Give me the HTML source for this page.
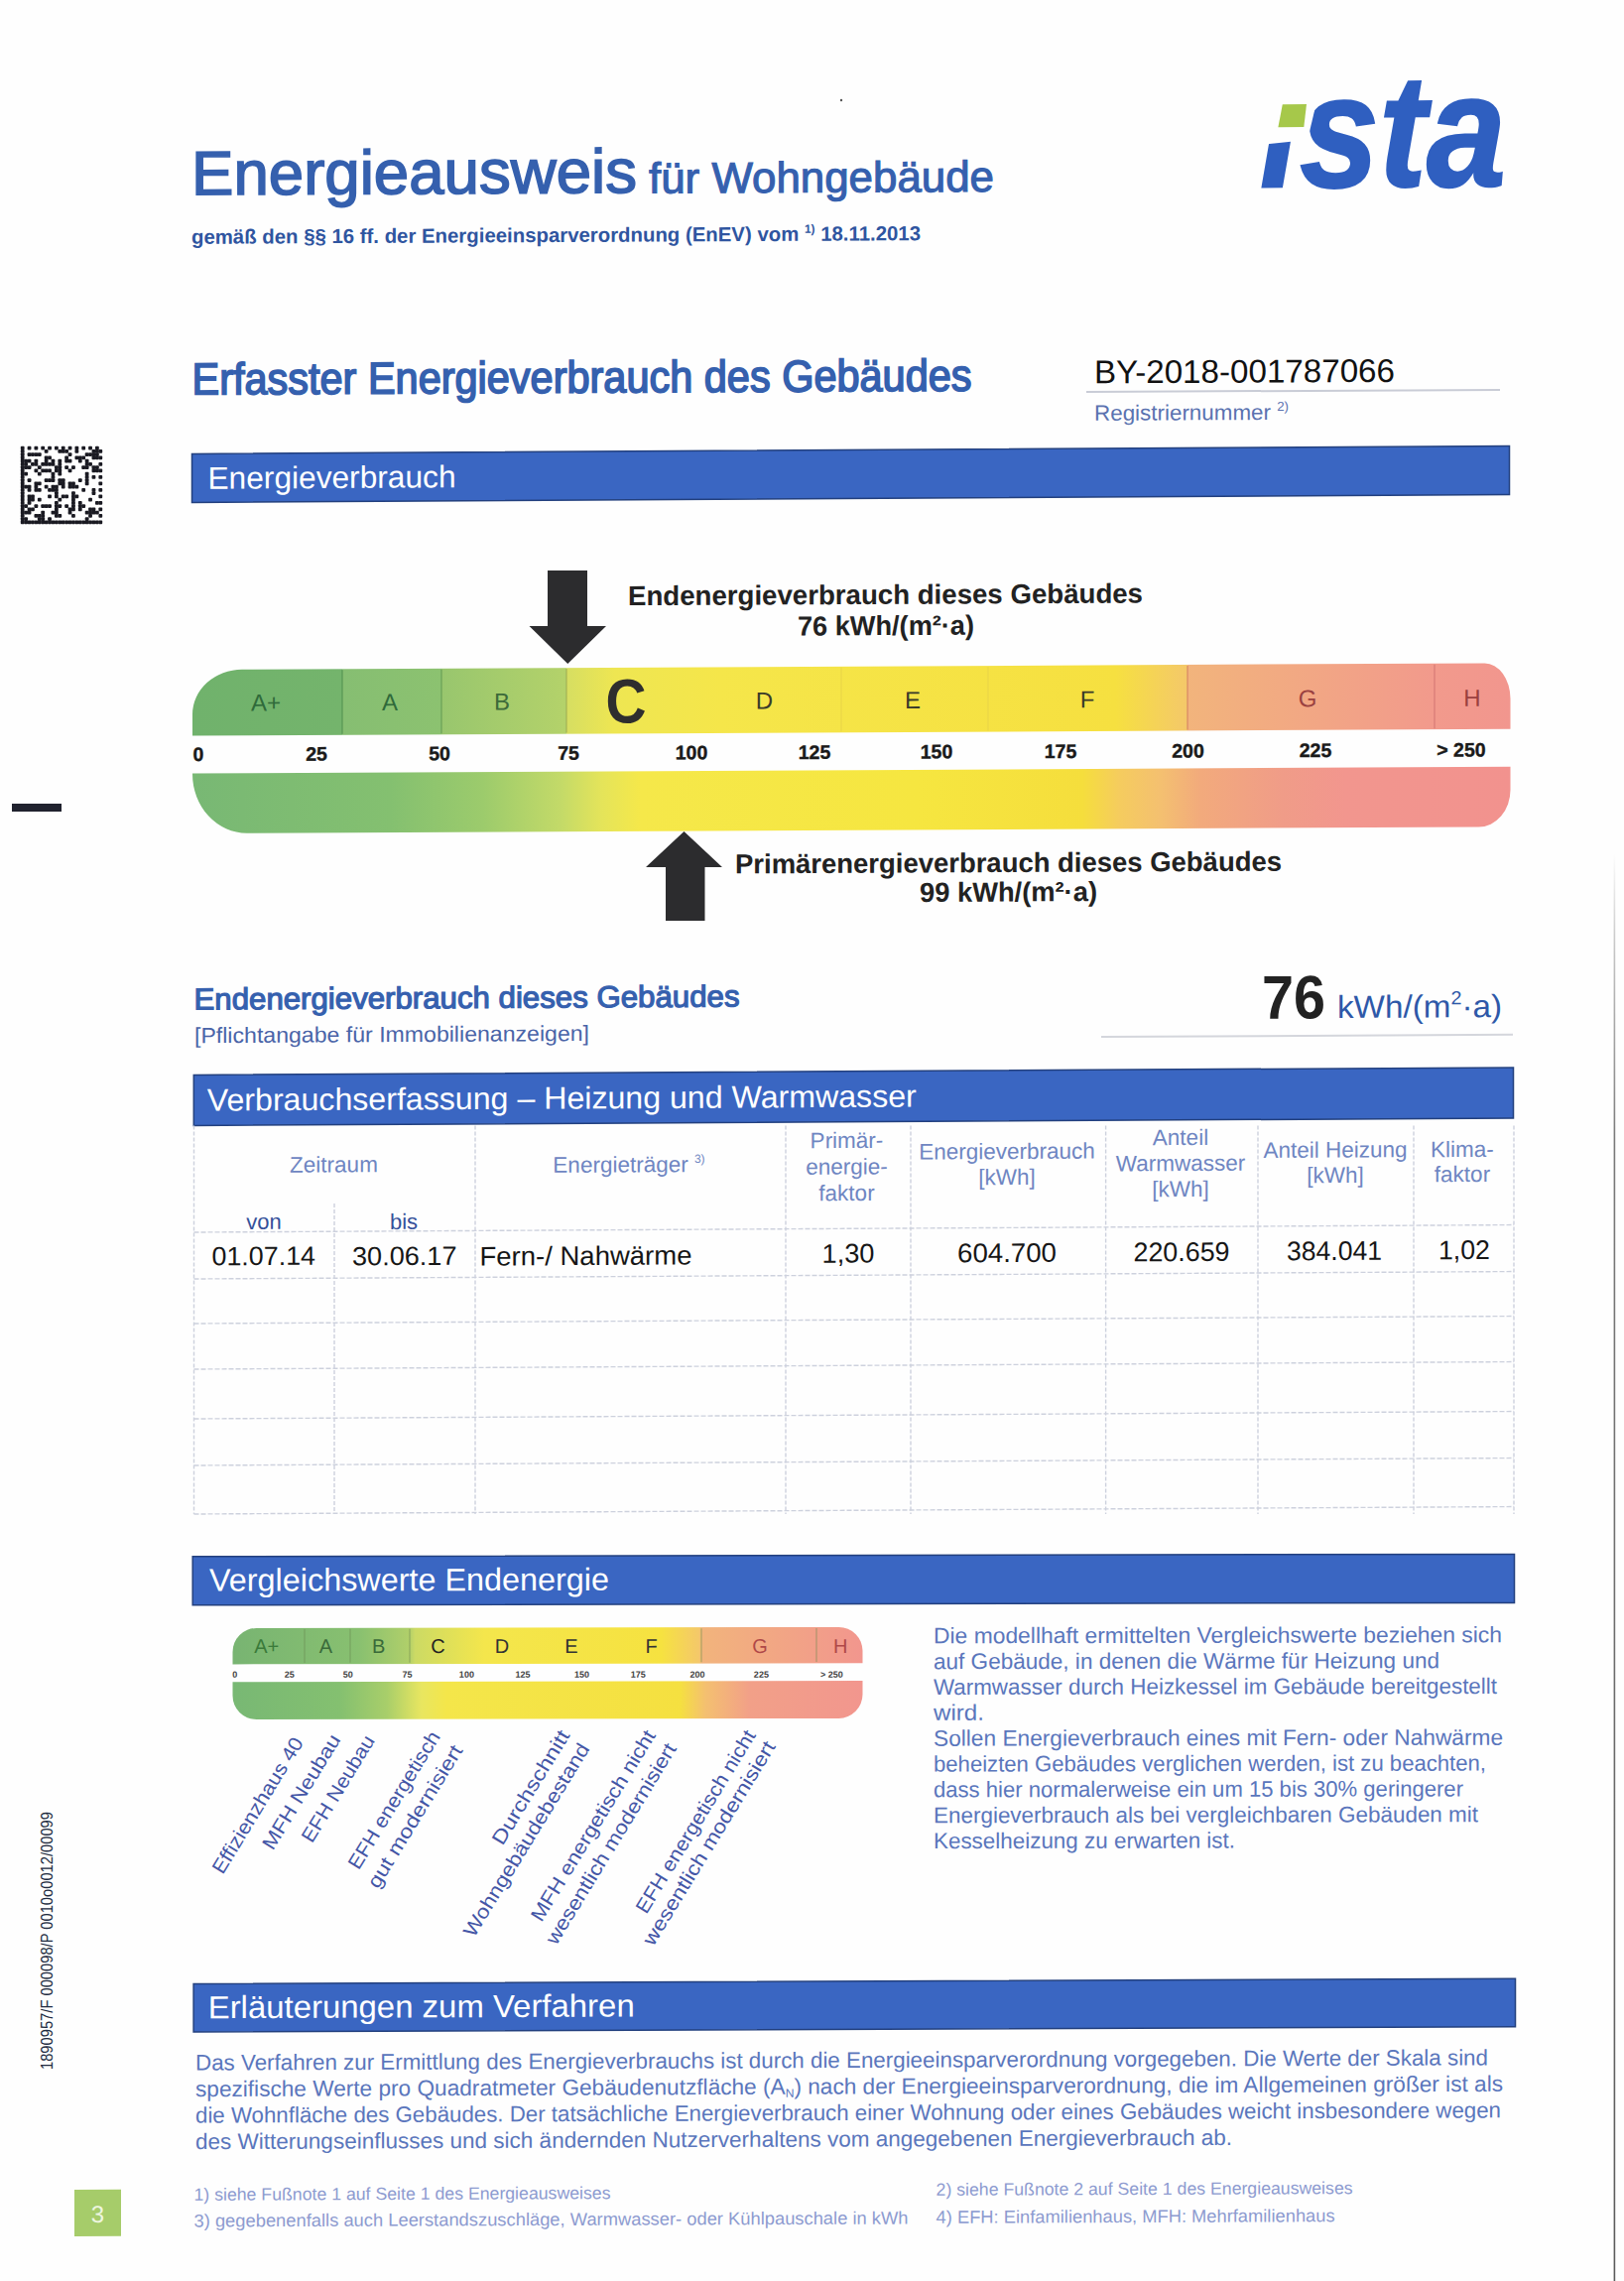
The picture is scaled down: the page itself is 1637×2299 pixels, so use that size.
<!DOCTYPE html>
<html><head><meta charset="utf-8"><title>Energieausweis</title>
<style>
html,body{margin:0;padding:0;background:#fff;}
body{width:1637px;height:2299px;overflow:hidden;}
svg{display:block;}
text{font-family:'Liberation Sans', Arial, sans-serif;}
</style></head><body>
<svg width="1637" height="2299" viewBox="0 0 1637 2299">
<rect width="1637" height="2299" fill="#fefefe"/>
<g transform="matrix(1 -0.005 0 1 0 0.9750)">
<text x="193.0" y="196.3" font-size="62.5" fill="#3560ae" font-weight="normal" text-anchor="start" textLength="449.0" lengthAdjust="spacingAndGlyphs" stroke="#3560ae" stroke-width="1.6" >Energieausweis</text>
<text x="654.0" y="196.9" font-size="43.5" fill="#3560ae" font-weight="normal" text-anchor="start" textLength="348.0" lengthAdjust="spacingAndGlyphs" stroke="#3560ae" stroke-width="1.1" >für Wohngebäude</text>
<text x="193.0" y="245.8" font-size="20.5" fill="#2f55a0" font-weight="bold" text-anchor="start" textLength="735.0" lengthAdjust="spacingAndGlyphs" >gemäß den §§ 16 ff. der Energieeinsparverordnung (EnEV) vom <tspan font-size="12" dy="-8">1)</tspan><tspan dy="8"> 18.11.2013</tspan></text>
<text x="1270" y="194.0" font-size="162" font-style="italic" font-weight="bold" fill="#2f5fc0" stroke="#2f5fc0" stroke-width="2" textLength="248" lengthAdjust="spacingAndGlyphs">ista</text>
<path d="M1276,75.5 L1335,75.5 L1318,146.5 L1268,151.5 Z" fill="#fefefe"/>
<path d="M1292.8,110.7 L1317,110.7 L1314.3,133.6 L1288.4,133.6 Z" fill="#a6c84a"/>
<text x="193.5" y="397.6" font-size="45" fill="#3560ae" font-weight="normal" text-anchor="start" textLength="786.0" lengthAdjust="spacingAndGlyphs" stroke="#3560ae" stroke-width="1.7" >Erfasster Energieverbrauch des Gebäudes</text>
<text x="1103.0" y="390.9" font-size="33" fill="#111" font-weight="normal" text-anchor="start" textLength="303.0" lengthAdjust="spacingAndGlyphs" >BY-2018-001787066</text>
<line x1="1095" y1="399.5" x2="1512" y2="399.5" stroke="#c9ccd6" stroke-width="2"/>
<text x="1103.0" y="428.4" font-size="22" fill="#5a72b0" font-weight="normal" text-anchor="start" textLength="196.0" lengthAdjust="spacingAndGlyphs" >Registriernummer <tspan font-size="13" dy="-9">2)</tspan></text>
</g>
<g transform="matrix(1 -0.006 0 1 0 1.1700)">
<rect x="193.5" y="457.4" width="1328.0" height="49" fill="#3a66c2" stroke="#23407e" stroke-width="1.5"/>
<text x="209.5" y="492.8" font-size="31.5" fill="#fff" font-weight="normal" text-anchor="start" textLength="250.0" lengthAdjust="spacingAndGlyphs" >Energieverbrauch</text>
<defs>
<linearGradient id="gl" x1="194" x2="1523" gradientUnits="userSpaceOnUse">
 <stop offset="0" stop-color="#78b874"/>
 <stop offset="0.15" stop-color="#84c070"/>
 <stop offset="0.22" stop-color="#9ccb6c"/>
 <stop offset="0.28" stop-color="#c4da68"/>
 <stop offset="0.31" stop-color="#e4e45a"/>
 <stop offset="0.34" stop-color="#f5e84a"/>
 <stop offset="0.55" stop-color="#f6e640"/>
 <stop offset="0.675" stop-color="#f5de3c"/>
 <stop offset="0.703" stop-color="#f5cc5e"/>
 <stop offset="0.734" stop-color="#f4c070"/>
 <stop offset="0.765" stop-color="#f2aa7c"/>
 <stop offset="0.827" stop-color="#f09c88"/>
 <stop offset="0.874" stop-color="#f2968e"/>
 <stop offset="1" stop-color="#f2928e"/>
</linearGradient>
<linearGradient id="gu" x1="194" x2="1523" gradientUnits="userSpaceOnUse">
 <stop offset="0" stop-color="#70b26c"/>
 <stop offset="0.1135" stop-color="#74b46c"/>
 <stop offset="0.1136" stop-color="#86be72"/>
 <stop offset="0.1885" stop-color="#8cc270"/>
 <stop offset="0.1886" stop-color="#98c66e"/>
 <stop offset="0.2835" stop-color="#b4d26a"/>
 <stop offset="0.2836" stop-color="#d6de62"/>
 <stop offset="0.32" stop-color="#eee652"/>
 <stop offset="0.40" stop-color="#f5e64a"/>
 <stop offset="0.70" stop-color="#f6e040"/>
 <stop offset="0.7545" stop-color="#f4c86a"/>
 <stop offset="0.7546" stop-color="#f2b47c"/>
 <stop offset="0.94" stop-color="#f29a8c"/>
 <stop offset="1" stop-color="#f2968e"/>
</linearGradient>
<linearGradient id="sl" x1="234" x2="870" gradientUnits="userSpaceOnUse">
 <stop offset="0" stop-color="#78b874"/>
 <stop offset="0.17" stop-color="#84c070"/>
 <stop offset="0.245" stop-color="#a8ce6a"/>
 <stop offset="0.30" stop-color="#e8e660"/>
 <stop offset="0.34" stop-color="#f4e64a"/>
 <stop offset="0.71" stop-color="#f5e040"/>
 <stop offset="0.75" stop-color="#f4c070"/>
 <stop offset="0.82" stop-color="#f2a088"/>
 <stop offset="1" stop-color="#f2968e"/>
</linearGradient>
<linearGradient id="su" x1="234" x2="870" gradientUnits="userSpaceOnUse">
 <stop offset="0" stop-color="#78b472"/>
 <stop offset="0.2" stop-color="#88c070"/>
 <stop offset="0.28" stop-color="#b0cf6a"/>
 <stop offset="0.29" stop-color="#ccda64"/>
 <stop offset="0.40" stop-color="#f4e64c"/>
 <stop offset="0.68" stop-color="#f6e240"/>
 <stop offset="0.74" stop-color="#f4c86a"/>
 <stop offset="0.745" stop-color="#f2b47c"/>
 <stop offset="1" stop-color="#f2968e"/>
</linearGradient>
</defs>
</g>
<g transform="matrix(1 -0.005 0 1 0 0.9750)">
<path d="M194,741.495 L194,719.995 A50,45 0 0 1 244,674.995 L1496.5,674.995 A26,36 0 0 1 1522.5,710.995 L1522.5,741.495 Z" fill="url(#gu)"/>
<path d="M194,779.495 L1522.5,779.495 L1522.5,802.995 A32,37 0 0 1 1490.5,839.995 L249,839.995 A55,60 0 0 1 194,779.995 Z" fill="url(#gl)"/>
<line x1="345" y1="676.0" x2="345" y2="740.5" stroke="#4c8a4c" stroke-width="1.3" opacity="0.7"/>
<line x1="445" y1="676.0" x2="445" y2="740.5" stroke="#5e9650" stroke-width="1.3" opacity="0.7"/>
<line x1="571" y1="676.0" x2="571" y2="740.5" stroke="#9aa850" stroke-width="1.3" opacity="0.7"/>
<line x1="848" y1="676.0" x2="848" y2="740.5" stroke="#e8d44a" stroke-width="1.3" opacity="0.7"/>
<line x1="996" y1="676.0" x2="996" y2="740.5" stroke="#e8d44a" stroke-width="1.3" opacity="0.7"/>
<line x1="1197" y1="676.0" x2="1197" y2="740.5" stroke="#d07860" stroke-width="1.3" opacity="0.7"/>
<line x1="1446" y1="676.0" x2="1446" y2="740.5" stroke="#d07070" stroke-width="1.3" opacity="0.7"/>
<text x="268.0" y="716.9" font-size="24" fill="#2f6a3a" font-weight="normal" text-anchor="middle" >A+</text>
<text x="393.0" y="717.0" font-size="24" fill="#2f6a3a" font-weight="normal" text-anchor="middle" >A</text>
<text x="506.0" y="717.1" font-size="24" fill="#3d6a3a" font-weight="normal" text-anchor="middle" >B</text>
<text x="770.5" y="717.4" font-size="24" fill="#3a3a2a" font-weight="normal" text-anchor="middle" >D</text>
<text x="920.0" y="717.5" font-size="24" fill="#3a3a2a" font-weight="normal" text-anchor="middle" >E</text>
<text x="1096.0" y="717.7" font-size="24" fill="#3a3a2a" font-weight="normal" text-anchor="middle" >F</text>
<text x="1318.0" y="717.9" font-size="24" fill="#9a4040" font-weight="normal" text-anchor="middle" >G</text>
<text x="1484.0" y="718.1" font-size="24" fill="#9a4040" font-weight="normal" text-anchor="middle" >H</text>
<text x="631.0" y="730.7" font-size="63" fill="#2e2e2e" font-weight="bold" text-anchor="middle" textLength="41.0" lengthAdjust="spacingAndGlyphs" >C</text>
<text x="200.0" y="767.0" font-size="19.5" fill="#1a1a1a" font-weight="bold" text-anchor="middle" stroke="#1a1a1a" stroke-width="0.4" >0</text>
<text x="319.0" y="767.2" font-size="19.5" fill="#1a1a1a" font-weight="bold" text-anchor="middle" stroke="#1a1a1a" stroke-width="0.4" >25</text>
<text x="443.0" y="767.4" font-size="19.5" fill="#1a1a1a" font-weight="bold" text-anchor="middle" stroke="#1a1a1a" stroke-width="0.4" >50</text>
<text x="573.0" y="767.6" font-size="19.5" fill="#1a1a1a" font-weight="bold" text-anchor="middle" stroke="#1a1a1a" stroke-width="0.4" >75</text>
<text x="697.0" y="767.8" font-size="19.5" fill="#1a1a1a" font-weight="bold" text-anchor="middle" stroke="#1a1a1a" stroke-width="0.4" >100</text>
<text x="821.0" y="768.0" font-size="19.5" fill="#1a1a1a" font-weight="bold" text-anchor="middle" stroke="#1a1a1a" stroke-width="0.4" >125</text>
<text x="944.0" y="768.1" font-size="19.5" fill="#1a1a1a" font-weight="bold" text-anchor="middle" stroke="#1a1a1a" stroke-width="0.4" >150</text>
<text x="1069.0" y="768.3" font-size="19.5" fill="#1a1a1a" font-weight="bold" text-anchor="middle" stroke="#1a1a1a" stroke-width="0.4" >175</text>
<text x="1197.5" y="768.5" font-size="19.5" fill="#1a1a1a" font-weight="bold" text-anchor="middle" stroke="#1a1a1a" stroke-width="0.4" >200</text>
<text x="1326.0" y="768.7" font-size="19.5" fill="#1a1a1a" font-weight="bold" text-anchor="middle" stroke="#1a1a1a" stroke-width="0.4" >225</text>
<text x="1473.0" y="768.9" font-size="19.5" fill="#1a1a1a" font-weight="bold" text-anchor="middle" stroke="#1a1a1a" stroke-width="0.4" >&gt; 250</text>
<path d="M552,576.8 L592,577.0 L592,633.0 L611,633.1 L572.25,670.9 L533.5,632.7 L552,632.8 Z" fill="#2c2c2e"/>
<path d="M671,930.4 L710.5,930.6 L710.5,876.6 L728,876.7 L689.5,840.5 L651,876.3 L671,876.4 Z" fill="#2c2c2e"/>
<text x="633.0" y="612.3" font-size="27.7" fill="#222" font-weight="bold" text-anchor="start" textLength="519.0" lengthAdjust="spacingAndGlyphs" >Endenergieverbrauch dieses Gebäudes</text>
<text x="893.0" y="643.5" font-size="27.7" fill="#222" font-weight="bold" text-anchor="middle" textLength="178.0" lengthAdjust="spacingAndGlyphs" >76 kWh/(m²·a)</text>
<text x="741.0" y="883.1" font-size="27.7" fill="#222" font-weight="bold" text-anchor="start" textLength="551.0" lengthAdjust="spacingAndGlyphs" >Primärenergieverbrauch dieses Gebäudes</text>
<text x="1016.5" y="912.6" font-size="27.7" fill="#222" font-weight="bold" text-anchor="middle" textLength="179.0" lengthAdjust="spacingAndGlyphs" >99 kWh/(m²·a)</text>
</g>
<g transform="matrix(1 -0.0056 0 1 0 1.0920)">
<text x="195.5" y="1017.6" font-size="30.5" fill="#3560ae" font-weight="normal" text-anchor="start" textLength="550.0" lengthAdjust="spacingAndGlyphs" stroke="#3560ae" stroke-width="1.2" >Endenergieverbrauch dieses Gebäudes</text>
<text x="196.0" y="1051.2" font-size="22" fill="#4a64a8" font-weight="normal" text-anchor="start" textLength="398.0" lengthAdjust="spacingAndGlyphs" >[Pflichtangabe für Immobilienanzeigen]</text>
<text x="1272.0" y="1032.8" font-size="62" fill="#222" font-weight="bold" text-anchor="start" textLength="64.0" lengthAdjust="spacingAndGlyphs" >76</text>
<text x="1348.0" y="1032.4" font-size="32" fill="#2e58a8" font-weight="normal" text-anchor="start" textLength="166.0" lengthAdjust="spacingAndGlyphs" >kWh/(m<tspan font-size="19" dy="-13">2</tspan><tspan dy="13">·a)</tspan></text>
<line x1="1110" y1="1050.2" x2="1525" y2="1050.2" stroke="#d4d6dc" stroke-width="2"/>
<rect x="195.3" y="1083.4" width="1330.2" height="51" fill="#3a66c2" stroke="#23407e" stroke-width="1.5"/>
<text x="208.8" y="1119.6" font-size="31.5" fill="#fff" font-weight="normal" text-anchor="start" textLength="715.0" lengthAdjust="spacingAndGlyphs" >Verbrauchserfassung – Heizung und Warmwasser</text>
<line x1="195.5" y1="1134.5" x2="195.5" y2="1526.0" stroke="#cdd1dd" stroke-width="1.4" stroke-dasharray="4 2"/>
<line x1="337" y1="1213.8" x2="337" y2="1526.8" stroke="#cdd1dd" stroke-width="1.4" stroke-dasharray="4 2"/>
<line x1="479" y1="1136.1" x2="479" y2="1527.6" stroke="#cdd1dd" stroke-width="1.4" stroke-dasharray="4 2"/>
<line x1="792" y1="1137.8" x2="792" y2="1529.3" stroke="#cdd1dd" stroke-width="1.4" stroke-dasharray="4 2"/>
<line x1="918" y1="1138.5" x2="918" y2="1530.0" stroke="#cdd1dd" stroke-width="1.4" stroke-dasharray="4 2"/>
<line x1="1114.6" y1="1139.6" x2="1114.6" y2="1531.1" stroke="#cdd1dd" stroke-width="1.4" stroke-dasharray="4 2"/>
<line x1="1268" y1="1140.5" x2="1268" y2="1532.0" stroke="#cdd1dd" stroke-width="1.4" stroke-dasharray="4 2"/>
<line x1="1425" y1="1141.4" x2="1425" y2="1532.9" stroke="#cdd1dd" stroke-width="1.4" stroke-dasharray="4 2"/>
<line x1="1526" y1="1142.0" x2="1526" y2="1533.5" stroke="#cdd1dd" stroke-width="1.4" stroke-dasharray="4 2"/>
<line x1="195.5" y1="1242.0" x2="1526" y2="1242.0" stroke="#cdd1dd" stroke-width="1.4" stroke-dasharray="5 2"/>
<line x1="195.5" y1="1289.0" x2="1526" y2="1289.0" stroke="#cdd1dd" stroke-width="1.4" stroke-dasharray="5 2"/>
<line x1="195.5" y1="1334.0" x2="1526" y2="1334.0" stroke="#cdd1dd" stroke-width="1.4" stroke-dasharray="5 2"/>
<line x1="195.5" y1="1380.0" x2="1526" y2="1380.0" stroke="#cdd1dd" stroke-width="1.4" stroke-dasharray="5 2"/>
<line x1="195.5" y1="1430.0" x2="1526" y2="1430.0" stroke="#cdd1dd" stroke-width="1.4" stroke-dasharray="5 2"/>
<line x1="195.5" y1="1477.0" x2="1526" y2="1477.0" stroke="#cdd1dd" stroke-width="1.4" stroke-dasharray="5 2"/>
<line x1="195.5" y1="1526.0" x2="1526" y2="1526.0" stroke="#cdd1dd" stroke-width="1.4" stroke-dasharray="5 2"/>
<text x="336.5" y="1182.2" font-size="22.5" fill="#6f86c2" font-weight="normal" text-anchor="middle" >Zeitraum</text>
<text x="634.0" y="1183.9" font-size="22.5" fill="#6f86c2" font-weight="normal" text-anchor="middle" >Energieträger <tspan font-size="12" dy="-9">3)</tspan></text>
<text x="266.0" y="1239.2" font-size="22" fill="#34509a" font-weight="normal" text-anchor="middle" >von</text>
<text x="407.0" y="1240.0" font-size="22" fill="#34509a" font-weight="normal" text-anchor="middle" >bis</text>
<text x="853.5" y="1160.7" font-size="22.5" fill="#6f86c2" font-weight="normal" text-anchor="middle" >Primär-</text>
<text x="853.5" y="1187.2" font-size="22.5" fill="#6f86c2" font-weight="normal" text-anchor="middle" >energie-</text>
<text x="853.5" y="1213.7" font-size="22.5" fill="#6f86c2" font-weight="normal" text-anchor="middle" >faktor</text>
<text x="1015.0" y="1172.6" font-size="22.5" fill="#6f86c2" font-weight="normal" text-anchor="middle" >Energieverbrauch</text>
<text x="1015.0" y="1198.6" font-size="22.5" fill="#6f86c2" font-weight="normal" text-anchor="middle" >[kWh]</text>
<text x="1190.0" y="1159.6" font-size="22.5" fill="#6f86c2" font-weight="normal" text-anchor="middle" >Anteil</text>
<text x="1190.0" y="1185.6" font-size="22.5" fill="#6f86c2" font-weight="normal" text-anchor="middle" >Warmwasser</text>
<text x="1190.0" y="1211.6" font-size="22.5" fill="#6f86c2" font-weight="normal" text-anchor="middle" >[kWh]</text>
<text x="1346.0" y="1173.0" font-size="22.5" fill="#6f86c2" font-weight="normal" text-anchor="middle" >Anteil Heizung</text>
<text x="1346.0" y="1198.5" font-size="22.5" fill="#6f86c2" font-weight="normal" text-anchor="middle" >[kWh]</text>
<text x="1474.0" y="1173.2" font-size="22.5" fill="#6f86c2" font-weight="normal" text-anchor="middle" >Klima-</text>
<text x="1474.0" y="1198.2" font-size="22.5" fill="#6f86c2" font-weight="normal" text-anchor="middle" >faktor</text>
<text x="213.5" y="1275.4" font-size="26.5" fill="#161616" font-weight="normal" text-anchor="start" textLength="104.5" lengthAdjust="spacingAndGlyphs" >01.07.14</text>
<text x="355.0" y="1276.2" font-size="26.5" fill="#161616" font-weight="normal" text-anchor="start" textLength="105.5" lengthAdjust="spacingAndGlyphs" >30.06.17</text>
<text x="483.5" y="1277.2" font-size="27" fill="#161616" font-weight="normal" text-anchor="start" textLength="214.0" lengthAdjust="spacingAndGlyphs" >Fern-/ Nahwärme</text>
<text x="855.0" y="1276.2" font-size="27" fill="#161616" font-weight="normal" text-anchor="middle" textLength="53.0" lengthAdjust="spacingAndGlyphs" >1,30</text>
<text x="1015.0" y="1276.6" font-size="27" fill="#161616" font-weight="normal" text-anchor="middle" textLength="100.0" lengthAdjust="spacingAndGlyphs" >604.700</text>
<text x="1191.0" y="1276.6" font-size="27" fill="#161616" font-weight="normal" text-anchor="middle" textLength="97.0" lengthAdjust="spacingAndGlyphs" >220.659</text>
<text x="1345.0" y="1276.4" font-size="27" fill="#161616" font-weight="normal" text-anchor="middle" textLength="96.0" lengthAdjust="spacingAndGlyphs" >384.041</text>
<text x="1476.0" y="1276.2" font-size="27" fill="#161616" font-weight="normal" text-anchor="middle" textLength="52.0" lengthAdjust="spacingAndGlyphs" >1,02</text>
</g>
<g transform="matrix(1 -0.0018 0 1 0 0.3510)">
<rect x="194.2" y="1568.8" width="1332.3" height="49" fill="#3a66c2" stroke="#23407e" stroke-width="1.5"/>
<text x="211.0" y="1603.6" font-size="32" fill="#fff" font-weight="normal" text-anchor="start" textLength="403.0" lengthAdjust="spacingAndGlyphs" >Vergleichswerte Endenergie</text>
<path d="M234.5,1677.4702000000002 L234.5,1665.0702 A24,24 0 0 1 258.5,1641.0702 L845.5,1641.0702 A24,24 0 0 1 869.5,1665.0702 L869.5,1677.4702000000002 Z" fill="url(#su)"/>
<path d="M234.5,1695.2702000000002 L869.5,1695.2702000000002 L869.5,1709.0702 A24,24 0 0 1 845.5,1733.0702 L258.5,1733.0702 A24,24 0 0 1 234.5,1709.0702 Z" fill="url(#sl)"/>
<line x1="307" y1="1642.1" x2="307" y2="1676.1" stroke="#6a8a50" stroke-width="1" opacity="0.6"/>
<line x1="353" y1="1642.1" x2="353" y2="1676.1" stroke="#6a8a50" stroke-width="1" opacity="0.6"/>
<line x1="413" y1="1642.1" x2="413" y2="1676.1" stroke="#6a8a50" stroke-width="1" opacity="0.6"/>
<line x1="707" y1="1642.1" x2="707" y2="1676.1" stroke="#6a8a50" stroke-width="1" opacity="0.6"/>
<line x1="823" y1="1642.1" x2="823" y2="1676.1" stroke="#6a8a50" stroke-width="1" opacity="0.6"/>
<text x="268.7" y="1666.1" font-size="20" fill="#3a7a3a" font-weight="normal" text-anchor="middle" >A+</text>
<text x="328.5" y="1666.2" font-size="20" fill="#3a6a3a" font-weight="normal" text-anchor="middle" >A</text>
<text x="381.7" y="1666.3" font-size="20" fill="#3a6a3a" font-weight="normal" text-anchor="middle" >B</text>
<text x="441.6" y="1666.4" font-size="20" fill="#222" font-weight="normal" text-anchor="middle" >C</text>
<text x="505.9" y="1666.6" font-size="20" fill="#333" font-weight="normal" text-anchor="middle" >D</text>
<text x="575.9" y="1666.7" font-size="20" fill="#333" font-weight="normal" text-anchor="middle" >E</text>
<text x="656.6" y="1666.8" font-size="20" fill="#333" font-weight="normal" text-anchor="middle" >F</text>
<text x="766.0" y="1667.0" font-size="20" fill="#b04848" font-weight="normal" text-anchor="middle" >G</text>
<text x="847.2" y="1667.2" font-size="20" fill="#b04848" font-weight="normal" text-anchor="middle" >H</text>
<text x="236.7" y="1690.8" font-size="9" fill="#444" font-weight="bold" text-anchor="middle" >0</text>
<text x="291.7" y="1690.9" font-size="9" fill="#444" font-weight="bold" text-anchor="middle" >25</text>
<text x="350.7" y="1691.0" font-size="9" fill="#444" font-weight="bold" text-anchor="middle" >50</text>
<text x="410.5" y="1691.1" font-size="9" fill="#444" font-weight="bold" text-anchor="middle" >75</text>
<text x="470.4" y="1691.2" font-size="9" fill="#444" font-weight="bold" text-anchor="middle" >100</text>
<text x="527.0" y="1691.3" font-size="9" fill="#444" font-weight="bold" text-anchor="middle" >125</text>
<text x="586.5" y="1691.4" font-size="9" fill="#444" font-weight="bold" text-anchor="middle" >150</text>
<text x="643.3" y="1691.5" font-size="9" fill="#444" font-weight="bold" text-anchor="middle" >175</text>
<text x="703.0" y="1691.6" font-size="9" fill="#444" font-weight="bold" text-anchor="middle" >200</text>
<text x="767.4" y="1691.7" font-size="9" fill="#444" font-weight="bold" text-anchor="middle" >225</text>
<text x="838.4" y="1691.9" font-size="9" fill="#444" font-weight="bold" text-anchor="middle" >&gt; 250</text>
<text x="306.4" y="1756.4" font-size="20" fill="#4456a6" text-anchor="end" textLength="156.9" lengthAdjust="spacingAndGlyphs" transform="rotate(-58.5 306.4 1756.4)">Effizienzhaus 40</text>
<text x="343.9" y="1753.5" font-size="20" fill="#4456a6" text-anchor="end" textLength="131.8" lengthAdjust="spacingAndGlyphs" transform="rotate(-58.5 343.9 1753.5)">MFH Neubau</text>
<text x="378.4" y="1754.5" font-size="20" fill="#4456a6" text-anchor="end" textLength="122.2" lengthAdjust="spacingAndGlyphs" transform="rotate(-58.5 378.4 1754.5)">EFH Neubau</text>
<text x="444.4" y="1750.6" font-size="20" fill="#4456a6" text-anchor="end" textLength="158.6" lengthAdjust="spacingAndGlyphs" transform="rotate(-58.5 444.4 1750.6)">EFH energetisch</text>
<text x="467.0" y="1764.5" font-size="20" fill="#4456a6" text-anchor="end" textLength="164.6" lengthAdjust="spacingAndGlyphs" transform="rotate(-58.5 467.0 1764.5)">gut modernisiert</text>
<text x="575.0" y="1749.7" font-size="20" fill="#4456a6" text-anchor="end" textLength="131.1" lengthAdjust="spacingAndGlyphs" transform="rotate(-58.5 575.0 1749.7)">Durchschnitt</text>
<text x="595.0" y="1763.0" font-size="20" fill="#4456a6" text-anchor="end" textLength="224.4" lengthAdjust="spacingAndGlyphs" transform="rotate(-58.5 595.0 1763.0)">Wohngebäudebestand</text>
<text x="661.5" y="1749.8" font-size="20" fill="#4456a6" text-anchor="end" textLength="221.6" lengthAdjust="spacingAndGlyphs" transform="rotate(-58.5 661.5 1749.8)">MFH energetisch nicht</text>
<text x="682.5" y="1763.2" font-size="20" fill="#4456a6" text-anchor="end" textLength="233.2" lengthAdjust="spacingAndGlyphs" transform="rotate(-58.5 682.5 1763.2)">wesentlich modernisiert</text>
<text x="762.3" y="1750.0" font-size="20" fill="#4456a6" text-anchor="end" textLength="212.2" lengthAdjust="spacingAndGlyphs" transform="rotate(-58.5 762.3 1750.0)">EFH energetisch nicht</text>
<text x="782.3" y="1761.2" font-size="20" fill="#4456a6" text-anchor="end" textLength="236.8" lengthAdjust="spacingAndGlyphs" transform="rotate(-58.5 782.3 1761.2)">wesentlich modernisiert</text>
<text x="941.0" y="1657.6" font-size="22.5" fill="#5a76bc" font-weight="normal" text-anchor="start" textLength="573.0" lengthAdjust="spacingAndGlyphs" >Die modellhaft ermittelten Vergleichswerte beziehen sich</text>
<text x="941.0" y="1683.5" font-size="22.5" fill="#5a76bc" font-weight="normal" text-anchor="start" textLength="510.0" lengthAdjust="spacingAndGlyphs" >auf Gebäude, in denen die Wärme für Heizung und</text>
<text x="941.0" y="1709.3" font-size="22.5" fill="#5a76bc" font-weight="normal" text-anchor="start" textLength="568.0" lengthAdjust="spacingAndGlyphs" >Warmwasser durch Heizkessel im Gebäude bereitgestellt</text>
<text x="941.0" y="1735.2" font-size="22.5" fill="#5a76bc" font-weight="normal" text-anchor="start" textLength="51.0" lengthAdjust="spacingAndGlyphs" >wird.</text>
<text x="941.0" y="1761.0" font-size="22.5" fill="#5a76bc" font-weight="normal" text-anchor="start" textLength="574.0" lengthAdjust="spacingAndGlyphs" >Sollen Energieverbrauch eines mit Fern- oder Nahwärme</text>
<text x="941.0" y="1786.9" font-size="22.5" fill="#5a76bc" font-weight="normal" text-anchor="start" textLength="557.0" lengthAdjust="spacingAndGlyphs" >beheizten Gebäudes verglichen werden, ist zu beachten,</text>
<text x="941.0" y="1812.7" font-size="22.5" fill="#5a76bc" font-weight="normal" text-anchor="start" textLength="534.0" lengthAdjust="spacingAndGlyphs" >dass hier normalerweise ein um 15 bis 30% geringerer</text>
<text x="941.0" y="1838.6" font-size="22.5" fill="#5a76bc" font-weight="normal" text-anchor="start" textLength="549.0" lengthAdjust="spacingAndGlyphs" >Energieverbrauch als bei vergleichbaren Gebäuden mit</text>
<text x="941.0" y="1864.4" font-size="22.5" fill="#5a76bc" font-weight="normal" text-anchor="start" textLength="304.0" lengthAdjust="spacingAndGlyphs" >Kesselheizung zu erwarten ist.</text>
</g>
<g transform="matrix(1 -0.004 0 1 0 0.7800)">
<rect x="195.1" y="1999.6" width="1332.4" height="48.5" fill="#3a66c2" stroke="#23407e" stroke-width="1.5"/>
<text x="209.7" y="2034.2" font-size="32" fill="#fff" font-weight="normal" text-anchor="start" textLength="430.0" lengthAdjust="spacingAndGlyphs" >Erläuterungen zum Verfahren</text>
<text x="197.0" y="2086.6" font-size="22.4" fill="#5a76bc" font-weight="normal" text-anchor="start" textLength="1303.0" lengthAdjust="spacingAndGlyphs" >Das Verfahren zur Ermittlung des Energieverbrauchs ist durch die Energieeinsparverordnung vorgegeben. Die Werte der Skala sind</text>
<text x="197.0" y="2113.1" font-size="22.4" fill="#5a76bc" font-weight="normal" text-anchor="start" textLength="1318.0" lengthAdjust="spacingAndGlyphs" >spezifische Werte pro Quadratmeter Gebäudenutzfläche (A<tspan font-size="12" dy="3">N</tspan><tspan dy="-3">) nach der Energieeinsparverordnung, die im Allgemeinen größer ist als</tspan></text>
<text x="197.0" y="2139.6" font-size="22.4" fill="#5a76bc" font-weight="normal" text-anchor="start" textLength="1316.0" lengthAdjust="spacingAndGlyphs" >die Wohnfläche des Gebäudes. Der tatsächliche Energieverbrauch einer Wohnung oder eines Gebäudes weicht insbesondere wegen</text>
<text x="197.0" y="2166.1" font-size="22.4" fill="#5a76bc" font-weight="normal" text-anchor="start" textLength="1045.0" lengthAdjust="spacingAndGlyphs" >des Witterungseinflusses und sich ändernden Nutzerverhaltens vom angegebenen Energieverbrauch ab.</text>
<rect x="75" y="2206.5" width="47" height="47" fill="#a6cc6a"/>
<text x="98.5" y="2239.6" font-size="24" fill="#eef6e0" font-weight="normal" text-anchor="middle" >3</text>
<text x="195.5" y="2217.8" font-size="17.5" fill="#8d9bd0" font-weight="normal" text-anchor="start" textLength="420.0" lengthAdjust="spacingAndGlyphs" >1) siehe Fußnote 1 auf Seite 1 des Energieausweises</text>
<text x="195.5" y="2244.4" font-size="18" fill="#8d9bd0" font-weight="normal" text-anchor="start" textLength="720.0" lengthAdjust="spacingAndGlyphs" >3) gegebenenfalls auch Leerstandszuschläge, Warmwasser- oder Kühlpauschale in kWh</text>
<text x="943.6" y="2215.8" font-size="17.5" fill="#8d9bd0" font-weight="normal" text-anchor="start" textLength="420.0" lengthAdjust="spacingAndGlyphs" >2) siehe Fußnote 2 auf Seite 1 des Energieausweises</text>
<text x="943.6" y="2243.8" font-size="18" fill="#8d9bd0" font-weight="normal" text-anchor="start" textLength="402.0" lengthAdjust="spacingAndGlyphs" >4) EFH: Einfamilienhaus, MFH: Mehrfamilienhaus</text>
</g>
<g fill="#1a1a22"><rect x="20.80" y="449.80" width="3.82" height="3.65" rx="0.9"/><rect x="27.63" y="449.80" width="3.82" height="3.65" rx="0.9"/><rect x="34.47" y="449.80" width="3.82" height="3.65" rx="0.9"/><rect x="41.30" y="449.80" width="3.82" height="3.65" rx="0.9"/><rect x="48.13" y="449.80" width="3.82" height="3.65" rx="0.9"/><rect x="54.97" y="449.80" width="3.82" height="3.65" rx="0.9"/><rect x="61.80" y="449.80" width="3.82" height="3.65" rx="0.9"/><rect x="68.63" y="449.80" width="3.82" height="3.65" rx="0.9"/><rect x="75.47" y="449.80" width="3.82" height="3.65" rx="0.9"/><rect x="82.30" y="449.80" width="3.82" height="3.65" rx="0.9"/><rect x="89.13" y="449.80" width="3.82" height="3.65" rx="0.9"/><rect x="95.97" y="449.80" width="3.82" height="3.65" rx="0.9"/><rect x="20.80" y="453.05" width="3.82" height="3.65" rx="0.9"/><rect x="44.72" y="453.05" width="3.82" height="3.65" rx="0.9"/><rect x="58.38" y="453.05" width="3.82" height="3.65" rx="0.9"/><rect x="61.80" y="453.05" width="3.82" height="3.65" rx="0.9"/><rect x="65.22" y="453.05" width="3.82" height="3.65" rx="0.9"/><rect x="75.47" y="453.05" width="3.82" height="3.65" rx="0.9"/><rect x="92.55" y="453.05" width="3.82" height="3.65" rx="0.9"/><rect x="95.97" y="453.05" width="3.82" height="3.65" rx="0.9"/><rect x="99.38" y="453.05" width="3.82" height="3.65" rx="0.9"/><rect x="20.80" y="456.30" width="3.82" height="3.65" rx="0.9"/><rect x="27.63" y="456.30" width="3.82" height="3.65" rx="0.9"/><rect x="31.05" y="456.30" width="3.82" height="3.65" rx="0.9"/><rect x="34.47" y="456.30" width="3.82" height="3.65" rx="0.9"/><rect x="37.88" y="456.30" width="3.82" height="3.65" rx="0.9"/><rect x="68.63" y="456.30" width="3.82" height="3.65" rx="0.9"/><rect x="85.72" y="456.30" width="3.82" height="3.65" rx="0.9"/><rect x="89.13" y="456.30" width="3.82" height="3.65" rx="0.9"/><rect x="92.55" y="456.30" width="3.82" height="3.65" rx="0.9"/><rect x="95.97" y="456.30" width="3.82" height="3.65" rx="0.9"/><rect x="20.80" y="459.55" width="3.82" height="3.65" rx="0.9"/><rect x="44.72" y="459.55" width="3.82" height="3.65" rx="0.9"/><rect x="48.13" y="459.55" width="3.82" height="3.65" rx="0.9"/><rect x="65.22" y="459.55" width="3.82" height="3.65" rx="0.9"/><rect x="75.47" y="459.55" width="3.82" height="3.65" rx="0.9"/><rect x="78.88" y="459.55" width="3.82" height="3.65" rx="0.9"/><rect x="82.30" y="459.55" width="3.82" height="3.65" rx="0.9"/><rect x="92.55" y="459.55" width="3.82" height="3.65" rx="0.9"/><rect x="95.97" y="459.55" width="3.82" height="3.65" rx="0.9"/><rect x="99.38" y="459.55" width="3.82" height="3.65" rx="0.9"/><rect x="20.80" y="462.80" width="3.82" height="3.65" rx="0.9"/><rect x="24.22" y="462.80" width="3.82" height="3.65" rx="0.9"/><rect x="27.63" y="462.80" width="3.82" height="3.65" rx="0.9"/><rect x="34.47" y="462.80" width="3.82" height="3.65" rx="0.9"/><rect x="44.72" y="462.80" width="3.82" height="3.65" rx="0.9"/><rect x="51.55" y="462.80" width="3.82" height="3.65" rx="0.9"/><rect x="58.38" y="462.80" width="3.82" height="3.65" rx="0.9"/><rect x="65.22" y="462.80" width="3.82" height="3.65" rx="0.9"/><rect x="68.63" y="462.80" width="3.82" height="3.65" rx="0.9"/><rect x="78.88" y="462.80" width="3.82" height="3.65" rx="0.9"/><rect x="85.72" y="462.80" width="3.82" height="3.65" rx="0.9"/><rect x="20.80" y="466.05" width="3.82" height="3.65" rx="0.9"/><rect x="24.22" y="466.05" width="3.82" height="3.65" rx="0.9"/><rect x="31.05" y="466.05" width="3.82" height="3.65" rx="0.9"/><rect x="34.47" y="466.05" width="3.82" height="3.65" rx="0.9"/><rect x="41.30" y="466.05" width="3.82" height="3.65" rx="0.9"/><rect x="44.72" y="466.05" width="3.82" height="3.65" rx="0.9"/><rect x="48.13" y="466.05" width="3.82" height="3.65" rx="0.9"/><rect x="51.55" y="466.05" width="3.82" height="3.65" rx="0.9"/><rect x="58.38" y="466.05" width="3.82" height="3.65" rx="0.9"/><rect x="85.72" y="466.05" width="3.82" height="3.65" rx="0.9"/><rect x="89.13" y="466.05" width="3.82" height="3.65" rx="0.9"/><rect x="99.38" y="466.05" width="3.82" height="3.65" rx="0.9"/><rect x="20.80" y="469.30" width="3.82" height="3.65" rx="0.9"/><rect x="24.22" y="469.30" width="3.82" height="3.65" rx="0.9"/><rect x="27.63" y="469.30" width="3.82" height="3.65" rx="0.9"/><rect x="37.88" y="469.30" width="3.82" height="3.65" rx="0.9"/><rect x="54.97" y="469.30" width="3.82" height="3.65" rx="0.9"/><rect x="58.38" y="469.30" width="3.82" height="3.65" rx="0.9"/><rect x="65.22" y="469.30" width="3.82" height="3.65" rx="0.9"/><rect x="72.05" y="469.30" width="3.82" height="3.65" rx="0.9"/><rect x="82.30" y="469.30" width="3.82" height="3.65" rx="0.9"/><rect x="85.72" y="469.30" width="3.82" height="3.65" rx="0.9"/><rect x="92.55" y="469.30" width="3.82" height="3.65" rx="0.9"/><rect x="95.97" y="469.30" width="3.82" height="3.65" rx="0.9"/><rect x="20.80" y="472.55" width="3.82" height="3.65" rx="0.9"/><rect x="34.47" y="472.55" width="3.82" height="3.65" rx="0.9"/><rect x="41.30" y="472.55" width="3.82" height="3.65" rx="0.9"/><rect x="44.72" y="472.55" width="3.82" height="3.65" rx="0.9"/><rect x="48.13" y="472.55" width="3.82" height="3.65" rx="0.9"/><rect x="54.97" y="472.55" width="3.82" height="3.65" rx="0.9"/><rect x="58.38" y="472.55" width="3.82" height="3.65" rx="0.9"/><rect x="68.63" y="472.55" width="3.82" height="3.65" rx="0.9"/><rect x="92.55" y="472.55" width="3.82" height="3.65" rx="0.9"/><rect x="95.97" y="472.55" width="3.82" height="3.65" rx="0.9"/><rect x="99.38" y="472.55" width="3.82" height="3.65" rx="0.9"/><rect x="20.80" y="475.80" width="3.82" height="3.65" rx="0.9"/><rect x="24.22" y="475.80" width="3.82" height="3.65" rx="0.9"/><rect x="37.88" y="475.80" width="3.82" height="3.65" rx="0.9"/><rect x="51.55" y="475.80" width="3.82" height="3.65" rx="0.9"/><rect x="58.38" y="475.80" width="3.82" height="3.65" rx="0.9"/><rect x="85.72" y="475.80" width="3.82" height="3.65" rx="0.9"/><rect x="20.80" y="479.05" width="3.82" height="3.65" rx="0.9"/><rect x="51.55" y="479.05" width="3.82" height="3.65" rx="0.9"/><rect x="85.72" y="479.05" width="3.82" height="3.65" rx="0.9"/><rect x="92.55" y="479.05" width="3.82" height="3.65" rx="0.9"/><rect x="99.38" y="479.05" width="3.82" height="3.65" rx="0.9"/><rect x="20.80" y="482.30" width="3.82" height="3.65" rx="0.9"/><rect x="27.63" y="482.30" width="3.82" height="3.65" rx="0.9"/><rect x="44.72" y="482.30" width="3.82" height="3.65" rx="0.9"/><rect x="48.13" y="482.30" width="3.82" height="3.65" rx="0.9"/><rect x="51.55" y="482.30" width="3.82" height="3.65" rx="0.9"/><rect x="58.38" y="482.30" width="3.82" height="3.65" rx="0.9"/><rect x="61.80" y="482.30" width="3.82" height="3.65" rx="0.9"/><rect x="78.88" y="482.30" width="3.82" height="3.65" rx="0.9"/><rect x="85.72" y="482.30" width="3.82" height="3.65" rx="0.9"/><rect x="20.80" y="485.55" width="3.82" height="3.65" rx="0.9"/><rect x="34.47" y="485.55" width="3.82" height="3.65" rx="0.9"/><rect x="37.88" y="485.55" width="3.82" height="3.65" rx="0.9"/><rect x="58.38" y="485.55" width="3.82" height="3.65" rx="0.9"/><rect x="61.80" y="485.55" width="3.82" height="3.65" rx="0.9"/><rect x="68.63" y="485.55" width="3.82" height="3.65" rx="0.9"/><rect x="72.05" y="485.55" width="3.82" height="3.65" rx="0.9"/><rect x="85.72" y="485.55" width="3.82" height="3.65" rx="0.9"/><rect x="99.38" y="485.55" width="3.82" height="3.65" rx="0.9"/><rect x="20.80" y="488.80" width="3.82" height="3.65" rx="0.9"/><rect x="24.22" y="488.80" width="3.82" height="3.65" rx="0.9"/><rect x="27.63" y="488.80" width="3.82" height="3.65" rx="0.9"/><rect x="34.47" y="488.80" width="3.82" height="3.65" rx="0.9"/><rect x="44.72" y="488.80" width="3.82" height="3.65" rx="0.9"/><rect x="51.55" y="488.80" width="3.82" height="3.65" rx="0.9"/><rect x="54.97" y="488.80" width="3.82" height="3.65" rx="0.9"/><rect x="61.80" y="488.80" width="3.82" height="3.65" rx="0.9"/><rect x="68.63" y="488.80" width="3.82" height="3.65" rx="0.9"/><rect x="72.05" y="488.80" width="3.82" height="3.65" rx="0.9"/><rect x="75.47" y="488.80" width="3.82" height="3.65" rx="0.9"/><rect x="20.80" y="492.05" width="3.82" height="3.65" rx="0.9"/><rect x="27.63" y="492.05" width="3.82" height="3.65" rx="0.9"/><rect x="34.47" y="492.05" width="3.82" height="3.65" rx="0.9"/><rect x="37.88" y="492.05" width="3.82" height="3.65" rx="0.9"/><rect x="48.13" y="492.05" width="3.82" height="3.65" rx="0.9"/><rect x="51.55" y="492.05" width="3.82" height="3.65" rx="0.9"/><rect x="54.97" y="492.05" width="3.82" height="3.65" rx="0.9"/><rect x="82.30" y="492.05" width="3.82" height="3.65" rx="0.9"/><rect x="92.55" y="492.05" width="3.82" height="3.65" rx="0.9"/><rect x="99.38" y="492.05" width="3.82" height="3.65" rx="0.9"/><rect x="20.80" y="495.30" width="3.82" height="3.65" rx="0.9"/><rect x="54.97" y="495.30" width="3.82" height="3.65" rx="0.9"/><rect x="72.05" y="495.30" width="3.82" height="3.65" rx="0.9"/><rect x="92.55" y="495.30" width="3.82" height="3.65" rx="0.9"/><rect x="20.80" y="498.55" width="3.82" height="3.65" rx="0.9"/><rect x="27.63" y="498.55" width="3.82" height="3.65" rx="0.9"/><rect x="31.05" y="498.55" width="3.82" height="3.65" rx="0.9"/><rect x="48.13" y="498.55" width="3.82" height="3.65" rx="0.9"/><rect x="54.97" y="498.55" width="3.82" height="3.65" rx="0.9"/><rect x="61.80" y="498.55" width="3.82" height="3.65" rx="0.9"/><rect x="65.22" y="498.55" width="3.82" height="3.65" rx="0.9"/><rect x="72.05" y="498.55" width="3.82" height="3.65" rx="0.9"/><rect x="75.47" y="498.55" width="3.82" height="3.65" rx="0.9"/><rect x="99.38" y="498.55" width="3.82" height="3.65" rx="0.9"/><rect x="20.80" y="501.80" width="3.82" height="3.65" rx="0.9"/><rect x="27.63" y="501.80" width="3.82" height="3.65" rx="0.9"/><rect x="31.05" y="501.80" width="3.82" height="3.65" rx="0.9"/><rect x="37.88" y="501.80" width="3.82" height="3.65" rx="0.9"/><rect x="58.38" y="501.80" width="3.82" height="3.65" rx="0.9"/><rect x="72.05" y="501.80" width="3.82" height="3.65" rx="0.9"/><rect x="89.13" y="501.80" width="3.82" height="3.65" rx="0.9"/><rect x="20.80" y="505.05" width="3.82" height="3.65" rx="0.9"/><rect x="27.63" y="505.05" width="3.82" height="3.65" rx="0.9"/><rect x="54.97" y="505.05" width="3.82" height="3.65" rx="0.9"/><rect x="72.05" y="505.05" width="3.82" height="3.65" rx="0.9"/><rect x="78.88" y="505.05" width="3.82" height="3.65" rx="0.9"/><rect x="95.97" y="505.05" width="3.82" height="3.65" rx="0.9"/><rect x="99.38" y="505.05" width="3.82" height="3.65" rx="0.9"/><rect x="20.80" y="508.30" width="3.82" height="3.65" rx="0.9"/><rect x="24.22" y="508.30" width="3.82" height="3.65" rx="0.9"/><rect x="34.47" y="508.30" width="3.82" height="3.65" rx="0.9"/><rect x="41.30" y="508.30" width="3.82" height="3.65" rx="0.9"/><rect x="44.72" y="508.30" width="3.82" height="3.65" rx="0.9"/><rect x="48.13" y="508.30" width="3.82" height="3.65" rx="0.9"/><rect x="54.97" y="508.30" width="3.82" height="3.65" rx="0.9"/><rect x="58.38" y="508.30" width="3.82" height="3.65" rx="0.9"/><rect x="65.22" y="508.30" width="3.82" height="3.65" rx="0.9"/><rect x="72.05" y="508.30" width="3.82" height="3.65" rx="0.9"/><rect x="78.88" y="508.30" width="3.82" height="3.65" rx="0.9"/><rect x="82.30" y="508.30" width="3.82" height="3.65" rx="0.9"/><rect x="20.80" y="511.55" width="3.82" height="3.65" rx="0.9"/><rect x="27.63" y="511.55" width="3.82" height="3.65" rx="0.9"/><rect x="31.05" y="511.55" width="3.82" height="3.65" rx="0.9"/><rect x="54.97" y="511.55" width="3.82" height="3.65" rx="0.9"/><rect x="68.63" y="511.55" width="3.82" height="3.65" rx="0.9"/><rect x="72.05" y="511.55" width="3.82" height="3.65" rx="0.9"/><rect x="78.88" y="511.55" width="3.82" height="3.65" rx="0.9"/><rect x="89.13" y="511.55" width="3.82" height="3.65" rx="0.9"/><rect x="92.55" y="511.55" width="3.82" height="3.65" rx="0.9"/><rect x="99.38" y="511.55" width="3.82" height="3.65" rx="0.9"/><rect x="20.80" y="514.80" width="3.82" height="3.65" rx="0.9"/><rect x="24.22" y="514.80" width="3.82" height="3.65" rx="0.9"/><rect x="27.63" y="514.80" width="3.82" height="3.65" rx="0.9"/><rect x="41.30" y="514.80" width="3.82" height="3.65" rx="0.9"/><rect x="51.55" y="514.80" width="3.82" height="3.65" rx="0.9"/><rect x="54.97" y="514.80" width="3.82" height="3.65" rx="0.9"/><rect x="68.63" y="514.80" width="3.82" height="3.65" rx="0.9"/><rect x="85.72" y="514.80" width="3.82" height="3.65" rx="0.9"/><rect x="89.13" y="514.80" width="3.82" height="3.65" rx="0.9"/><rect x="92.55" y="514.80" width="3.82" height="3.65" rx="0.9"/><rect x="95.97" y="514.80" width="3.82" height="3.65" rx="0.9"/><rect x="20.80" y="518.05" width="3.82" height="3.65" rx="0.9"/><rect x="34.47" y="518.05" width="3.82" height="3.65" rx="0.9"/><rect x="37.88" y="518.05" width="3.82" height="3.65" rx="0.9"/><rect x="41.30" y="518.05" width="3.82" height="3.65" rx="0.9"/><rect x="54.97" y="518.05" width="3.82" height="3.65" rx="0.9"/><rect x="58.38" y="518.05" width="3.82" height="3.65" rx="0.9"/><rect x="72.05" y="518.05" width="3.82" height="3.65" rx="0.9"/><rect x="89.13" y="518.05" width="3.82" height="3.65" rx="0.9"/><rect x="99.38" y="518.05" width="3.82" height="3.65" rx="0.9"/><rect x="20.80" y="521.30" width="3.82" height="3.65" rx="0.9"/><rect x="24.22" y="521.30" width="3.82" height="3.65" rx="0.9"/><rect x="37.88" y="521.30" width="3.82" height="3.65" rx="0.9"/><rect x="41.30" y="521.30" width="3.82" height="3.65" rx="0.9"/><rect x="48.13" y="521.30" width="3.82" height="3.65" rx="0.9"/><rect x="85.72" y="521.30" width="3.82" height="3.65" rx="0.9"/><rect x="20.80" y="524.55" width="3.82" height="3.65" rx="0.9"/><rect x="24.22" y="524.55" width="3.82" height="3.65" rx="0.9"/><rect x="27.63" y="524.55" width="3.82" height="3.65" rx="0.9"/><rect x="31.05" y="524.55" width="3.82" height="3.65" rx="0.9"/><rect x="34.47" y="524.55" width="3.82" height="3.65" rx="0.9"/><rect x="37.88" y="524.55" width="3.82" height="3.65" rx="0.9"/><rect x="41.30" y="524.55" width="3.82" height="3.65" rx="0.9"/><rect x="44.72" y="524.55" width="3.82" height="3.65" rx="0.9"/><rect x="48.13" y="524.55" width="3.82" height="3.65" rx="0.9"/><rect x="51.55" y="524.55" width="3.82" height="3.65" rx="0.9"/><rect x="54.97" y="524.55" width="3.82" height="3.65" rx="0.9"/><rect x="58.38" y="524.55" width="3.82" height="3.65" rx="0.9"/><rect x="61.80" y="524.55" width="3.82" height="3.65" rx="0.9"/><rect x="65.22" y="524.55" width="3.82" height="3.65" rx="0.9"/><rect x="68.63" y="524.55" width="3.82" height="3.65" rx="0.9"/><rect x="72.05" y="524.55" width="3.82" height="3.65" rx="0.9"/><rect x="75.47" y="524.55" width="3.82" height="3.65" rx="0.9"/><rect x="78.88" y="524.55" width="3.82" height="3.65" rx="0.9"/><rect x="82.30" y="524.55" width="3.82" height="3.65" rx="0.9"/><rect x="85.72" y="524.55" width="3.82" height="3.65" rx="0.9"/><rect x="89.13" y="524.55" width="3.82" height="3.65" rx="0.9"/><rect x="92.55" y="524.55" width="3.82" height="3.65" rx="0.9"/><rect x="95.97" y="524.55" width="3.82" height="3.65" rx="0.9"/><rect x="99.38" y="524.55" width="3.82" height="3.65" rx="0.9"/></g>
<rect x="12" y="810" width="50" height="8" fill="#20222e"/>
<text x="0" y="0" font-size="16.5" fill="#202a40" transform="translate(52.5 2086) rotate(-90)" textLength="260" lengthAdjust="spacingAndGlyphs">1890957/F 000098/P 0010o0012/00099</text>
<circle cx="848" cy="101" r="1.2" fill="#555"/>
<defs><linearGradient id="edge" x1="0" y1="860" x2="0" y2="2299" gradientUnits="userSpaceOnUse">
 <stop offset="0" stop-color="#6a6a6a" stop-opacity="0"/>
 <stop offset="0.06" stop-color="#6a6a6a" stop-opacity="0.35"/>
 <stop offset="0.2" stop-color="#6a6a6a" stop-opacity="0.9"/>
 <stop offset="1" stop-color="#5a5a5a" stop-opacity="1"/>
</linearGradient></defs>
<rect x="1626.6" y="860" width="1.6" height="1439" fill="url(#edge)"/>

</svg>
</body></html>
